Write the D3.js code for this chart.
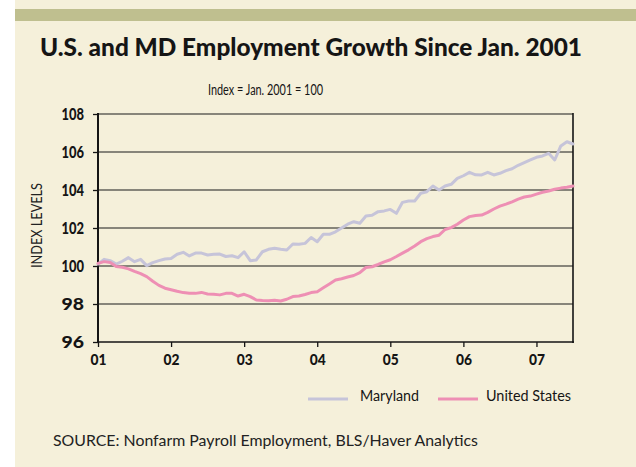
<!DOCTYPE html>
<html>
<head>
<meta charset="utf-8">
<script src="https://cdn.jsdelivr.net/npm/d3@7"></script>
<style>
  html, body { margin: 0; padding: 0; background: #ffffff; }
  svg { display: block; }
</style>
</head>
<body>
<svg id="chart" width="636" height="467"></svg>
<script>
// ---- data ----
const yearLabels = ["01", "02", "03", "04", "05", "06", "07"];
const yTicks = [96, 98, 100, 102, 104, 106, 108];
// monthly index values, Jan 2001 .. Jul 2007
const maryland = [
  100.1, 100.35, 100.28, 100.1, 100.25, 100.44, 100.23, 100.35, 100.02, 100.18,
  100.28, 100.37, 100.4, 100.62, 100.72, 100.53, 100.68, 100.68, 100.58, 100.62,
  100.63, 100.5, 100.54, 100.44, 100.75, 100.28, 100.32, 100.75, 100.88, 100.93,
  100.88, 100.84, 101.16, 101.14, 101.19, 101.5, 101.28, 101.67, 101.67, 101.8,
  102.0, 102.2, 102.33, 102.25, 102.63, 102.67, 102.86, 102.9, 102.98, 102.77,
  103.35, 103.42, 103.42, 103.83, 103.91, 104.21, 104.0, 104.21, 104.3, 104.61,
  104.75, 104.93, 104.8, 104.79, 104.93, 104.79, 104.88, 105.02, 105.12, 105.3,
  105.44, 105.58, 105.72, 105.79, 105.93, 105.58, 106.32, 106.54, 106.42
];
const unitedStates = [
  100.14, 100.23, 100.19, 99.97, 99.93, 99.85, 99.72, 99.6, 99.44, 99.2,
  98.98, 98.83, 98.75, 98.67, 98.6, 98.56, 98.56, 98.61, 98.53, 98.51,
  98.48, 98.56, 98.56, 98.42, 98.51, 98.39, 98.21, 98.18, 98.17, 98.2,
  98.16, 98.25, 98.39, 98.42, 98.5, 98.6, 98.65, 98.85, 99.05, 99.26,
  99.33, 99.42, 99.5, 99.65, 99.92, 99.96, 100.08, 100.22, 100.33, 100.5,
  100.68, 100.85, 101.05, 101.28, 101.44, 101.55, 101.62, 101.92, 102.02, 102.2,
  102.42, 102.6, 102.66, 102.68, 102.82, 103.0, 103.15, 103.26, 103.38, 103.52,
  103.63, 103.68, 103.78, 103.88, 103.95, 104.04, 104.1, 104.14, 104.21
];
const seriesNames = ["Maryland", "United States"];
const seriesColors = ["#c6c4d9", "#ee8fb4"];

// ---- layout ----
const svg = d3.select("#chart");
const W = 636, H = 467;
const plot = { left: 98, right: 573, top: 114, bottom: 342 };
const font = "Lato, 'Open Sans', sans-serif";
const ink = "#151515";

// background
svg.append("rect").attr("x", 15).attr("y", 0).attr("width", W - 15).attr("height", H).attr("fill", "#f5f0da");
svg.append("rect").attr("x", 15).attr("y", 9).attr("width", W - 15).attr("height", 12).attr("fill", "#bfbf8f");

// scales
const x = d3.scaleLinear().domain([0, 78]).range([plot.left, plot.right]);
const y = d3.scaleLinear().domain([96, 108]).range([plot.bottom, plot.top]);

// gridlines
svg.append("g").selectAll("line").data(yTicks.filter(v => v > 96)).join("line")
  .attr("x1", plot.left).attr("x2", plot.right)
  .attr("y1", d => y(d)).attr("y2", d => y(d))
  .attr("stroke", "#1a1a1a").attr("stroke-width", 1.2);

// y axis
const yAxis = d3.axisLeft(y).tickValues(yTicks).tickSize(5).tickPadding(9).tickFormat(d3.format("d"));
const gy = svg.append("g").attr("transform", `translate(${plot.left},0)`).call(yAxis);
gy.select(".domain").remove();
gy.selectAll(".tick line").attr("stroke", ink).attr("stroke-width", 1.3);
gy.selectAll(".tick text").attr("fill", ink).attr("font-family", font)
  .attr("font-weight", 900).attr("font-size", 16.5)
  .attr("textLength", 22.5).attr("lengthAdjust", "spacingAndGlyphs");

// x axis
const xAxis = d3.axisBottom(x).tickValues(yearLabels.map((_, i) => i * 12))
  .tickFormat((d, i) => yearLabels[i]).tickSize(5).tickPadding(7);
const gx = svg.append("g").attr("transform", `translate(0,${plot.bottom})`).call(xAxis);
gx.select(".domain").remove();
gx.selectAll(".tick line").attr("stroke", ink).attr("stroke-width", 1.3);
gx.selectAll(".tick text").attr("fill", ink).attr("font-family", font)
  .attr("font-weight", 900).attr("font-size", 15.5)
  .attr("textLength", 16).attr("lengthAdjust", "spacingAndGlyphs");

// frame: left, bottom, right
svg.append("line").attr("x1", plot.left).attr("x2", plot.left).attr("y1", plot.top - 1).attr("y2", plot.bottom + 1)
  .attr("stroke", ink).attr("stroke-width", 2);
svg.append("line").attr("x1", plot.left).attr("x2", plot.right + 1).attr("y1", plot.bottom).attr("y2", plot.bottom)
  .attr("stroke", ink).attr("stroke-width", 1.6);
svg.append("line").attr("x1", plot.right).attr("x2", plot.right).attr("y1", plot.top - 1).attr("y2", plot.bottom + 1)
  .attr("stroke", ink).attr("stroke-width", 1.6);

// lines
const line = d3.line().x((d, i) => x(i)).y(d => y(d));
[maryland, unitedStates].forEach((s, k) => {
  svg.append("path").datum(s).attr("d", line)
    .attr("fill", "none").attr("stroke", seriesColors[k]).attr("stroke-width", 3)
    .attr("stroke-linejoin", "round").attr("stroke-linecap", "round");
});

// titles
svg.append("text").attr("x", 311).attr("y", 56).attr("text-anchor", "middle")
  .attr("font-family", font).attr("font-weight", 900).attr("font-size", 24).attr("fill", ink)
  .attr("textLength", 542).attr("lengthAdjust", "spacingAndGlyphs")
  .text("U.S. and MD Employment Growth Since Jan. 2001");
svg.append("text").attr("x", 265.5).attr("y", 95).attr("text-anchor", "middle")
  .attr("font-family", font).attr("font-size", 15.5).attr("fill", ink)
  .attr("textLength", 115).attr("lengthAdjust", "spacingAndGlyphs")
  .text("Index = Jan. 2001 = 100");

// y axis title
svg.append("text").attr("transform", "translate(42,225.5) rotate(-90)").attr("text-anchor", "middle")
  .attr("font-family", font).attr("font-size", 15).attr("fill", "#222")
  .attr("textLength", 85).attr("lengthAdjust", "spacingAndGlyphs")
  .text("INDEX LEVELS");

// legend
const legend = [
  { x1: 308, x2: 348, tx: 360, tw: 59 },
  { x1: 438, x2: 478, tx: 486, tw: 85 }
];
legend.forEach((L, k) => {
  svg.append("line").attr("x1", L.x1).attr("x2", L.x2).attr("y1", 399).attr("y2", 399)
    .attr("stroke", seriesColors[k]).attr("stroke-width", 3);
  svg.append("text").attr("x", L.tx).attr("y", 401).attr("font-family", font).attr("font-size", 15.5)
    .attr("fill", ink).attr("textLength", L.tw).attr("lengthAdjust", "spacingAndGlyphs")
    .text(seriesNames[k]);
});

// source
svg.append("text").attr("x", 53).attr("y", 446).attr("font-family", font).attr("font-size", 16)
  .attr("fill", "#222").attr("textLength", 425).attr("lengthAdjust", "spacingAndGlyphs")
  .text("SOURCE:  Nonfarm Payroll Employment, BLS/Haver Analytics");
</script>
</body>
</html>
